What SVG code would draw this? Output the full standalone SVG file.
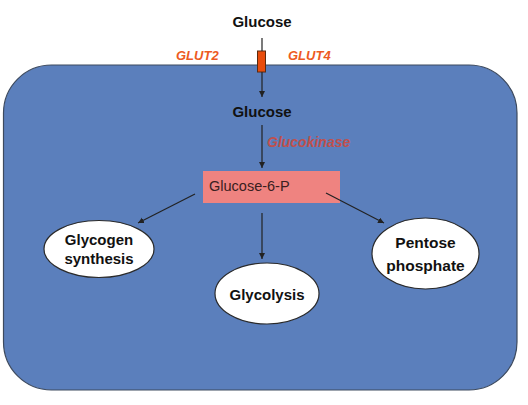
<svg xmlns="http://www.w3.org/2000/svg" width="528" height="405" viewBox="0 0 528 405">
<defs>
<style>
.lbl{font-family:"Liberation Sans",Arial,sans-serif;font-weight:bold;font-size:15px;fill:#111;text-anchor:middle}
.enz{font-family:"Liberation Sans",Arial,sans-serif;font-weight:bold;font-style:italic}
.con{stroke:#222;stroke-width:1.2;fill:none}
.ell{fill:#fff;stroke:#2a2a2a;stroke-width:1.2}
</style>
<marker id="ah" markerUnits="userSpaceOnUse" markerWidth="7" markerHeight="7" refX="6" refY="3" orient="auto">
<path d="M0,0 L6,3 L0,6 z" fill="#222"/>
</marker>
</defs>
<g id="cell">
<rect x="3.5" y="65" width="513.5" height="325" rx="48" ry="48" fill="#5b7fbc" stroke="#3d4a5e" stroke-width="1.2"/>
</g>
<g id="glucose-out"><text class="lbl" x="262" y="27">Glucose</text></g>
<g id="transporter">
<rect x="257.5" y="51" width="8" height="21" fill="#e84c0c" stroke="#5a2a10" stroke-width="1"/>
<text class="enz" x="176" y="60" font-size="13" fill="#ed5a22">GLUT2</text>
<text class="enz" x="288" y="60" font-size="13" fill="#ed5a22">GLUT4</text>
</g>
<g id="glucose-in"><text class="lbl" x="262" y="117">Glucose</text></g>
<g id="glucokinase"><text class="enz" x="267" y="147" font-size="14" fill="#c0504d">Glucokinase</text></g>
<g id="g6p">
<rect x="203" y="171" width="137" height="32" fill="#ef8380"/>
<text x="209" y="191" font-family="'Liberation Sans',Arial,sans-serif" font-size="14.5" fill="#3a2020">Glucose-6-P</text>
</g>
<g id="glycogen">
<ellipse class="ell" cx="99" cy="249" rx="55" ry="28.5"/>
<text class="lbl" x="99" y="245">Glycogen</text>
<text class="lbl" x="99" y="264">synthesis</text>
</g>
<g id="glycolysis">
<ellipse class="ell" cx="267" cy="293.5" rx="52" ry="30.5"/>
<text class="lbl" x="267" y="300">Glycolysis</text>
</g>
<g id="pentose">
<ellipse class="ell" cx="425.5" cy="253.5" rx="53.5" ry="35.5"/>
<text class="lbl" x="425.5" y="248" style="font-size:15.5px">Pentose</text>
<text class="lbl" x="425.5" y="271" style="font-size:15.5px">phosphate</text>
</g>
<g id="connectors">
<line class="con" x1="262" y1="38" x2="262" y2="51"/>
<line class="con" x1="262" y1="72" x2="262" y2="97" marker-end="url(#ah)"/>
<line class="con" x1="262" y1="125" x2="262" y2="168" marker-end="url(#ah)"/>
<line class="con" x1="195" y1="194" x2="138" y2="223" marker-end="url(#ah)"/>
<line class="con" x1="262" y1="213" x2="262" y2="259" marker-end="url(#ah)"/>
<line class="con" x1="326" y1="193" x2="384" y2="223" marker-end="url(#ah)"/>
</g>
</svg>
